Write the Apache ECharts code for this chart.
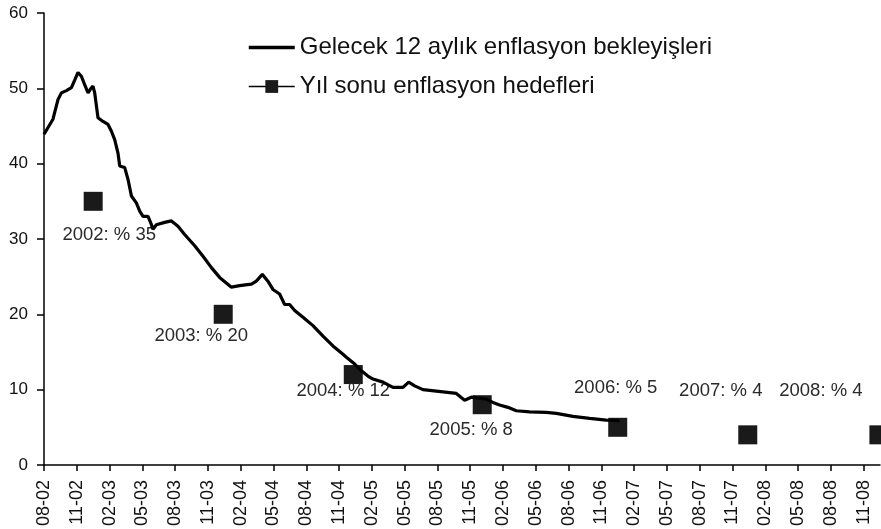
<!DOCTYPE html>
<html>
<head>
<meta charset="utf-8">
<script src="https://cdn.jsdelivr.net/npm/echarts@6/dist/echarts.min.js"></script>
<style>
html,body{margin:0;padding:0;background:#fff;}
#chart{width:881px;height:529px;}
</style>
</head>
<body>
<div id="chart"></div>
<script>
// x values are months elapsed since August 2002 (08-02 = 0)
var xTickLabels = ['08-02','11-02','02-03','05-03','08-03','11-03','02-04','05-04','08-04','11-04','02-05','05-05','08-05','11-05','02-06','05-06','08-06','11-06','02-07','05-07','08-07','11-07','02-08','05-08','08-08','11-08'];
var xTickMonths = [0,3,6,9,12,15,18,21,24,27,30,33,36,39,42,45,48,51,54,57,60,63,66,69,72,75];
var yTicks = [0,10,20,30,40,50,60];

var expectationName = 'Gelecek 12 aylık enflasyon bekleyişleri';
var expectationMonths = [0,0.37,0.82,1.28,1.59,2.05,2.51,2.81,3.11,3.42,3.72,4.03,4.25,4.48,4.64,4.94,5.4,5.86,6.17,6.47,6.77,6.93,7.38,7.69,8.0,8.45,8.76,9.06,9.52,9.83,9.97,10.28,11.04,11.66,12.26,12.87,13.79,14.55,15.32,16.07,17.15,17.9,18.98,19.43,19.98,20.49,20.95,21.56,22.02,22.48,22.94,23.7,24.61,25.53,26.44,27.36,27.67,28.43,29.04,29.64,30.1,31.02,31.93,32.85,33.37,33.92,34.68,35.9,37.73,38.49,39.1,40.48,41.08,41.69,42.45,43.22,44.44,45.96,46.88,48.4,49.93,51.45,52.67];
var expectationValues = [43.9,44.8,45.9,48.5,49.4,49.7,50.1,51.1,52.1,51.6,50.5,49.4,49.9,50.3,49.4,46.1,45.6,45.2,44.3,43.2,41.4,39.7,39.5,37.9,35.7,34.8,33.7,33.0,33.0,31.9,31.3,31.9,32.2,32.4,31.7,30.6,29.1,27.7,26.2,24.9,23.6,23.8,24.0,24.4,25.3,24.4,23.3,22.7,21.3,21.3,20.5,19.6,18.5,17.1,15.8,14.7,14.3,13.4,12.5,11.8,11.4,11.0,10.3,10.3,11.0,10.5,10.0,9.8,9.5,8.6,9.0,8.75,8.3,7.95,7.65,7.2,7.06,6.98,6.85,6.45,6.19,5.96,5.87];

var targetName = 'Yıl sonu enflasyon hedefleri';
var targetYears = ['2002','2003','2004','2005','2006','2007','2008'];
var targetMonths = [4.5,16.4,28.3,40.1,52.5,64.4,76.4];
var targetValues = [35,20,12,8,5,4,4];

// label placement (style only)
var targetLabelOffsets = [[16,34],[-22,22],[-10,16],[-11,25],[-2,-39],[-27,-44],[-58,-44]];

var FONT = '"Liberation Sans", Arial, Helvetica, sans-serif';

var lineData = expectationMonths.map(function(m, i){ return [m, expectationValues[i]]; });
var targetData = targetMonths.map(function(m, i){
  return {
    value: [m, targetValues[i]],
    name: targetYears[i],
    label: { offset: targetLabelOffsets[i] }
  };
});

var chart = echarts.init(document.getElementById('chart'), null, {renderer:'canvas'});
chart.setOption({
  animation: false,
  backgroundColor: '#ffffff',
  grid: { left: 44, right: 1, top: 13, bottom: 63, containLabel: false },
  legend: {
    orient: 'vertical',
    left: 243,
    top: 30,
    itemWidth: 46,
    itemHeight: 16,
    itemGap: 14,
    symbolKeepAspect: true,
    textStyle: { fontFamily: FONT, fontSize: 24, color: '#111', lineHeight: 25 },
    data: [
      { name: expectationName, icon: 'path://M0,0L46,0L46,3.5L0,3.5Z', itemStyle: { color: '#000' } },
      { name: targetName, lineStyle: { opacity: 1, width: 1.5, color: '#000' } }
    ]
  },
  xAxis: {
    type: 'value',
    min: 0,
    max: 76.5,
    splitLine: { show: false },
    axisLine: { onZero: false, lineStyle: { color: '#000', width: 1.5 } },
    axisTick: { show: true, length: 6, customValues: xTickMonths, lineStyle: { color: '#000', width: 1.5 } },
    axisLabel: {
      customValues: xTickMonths,
      rotate: 90,
      margin: 15,
      fontFamily: FONT,
      fontSize: 18,
      color: '#111',
      formatter: function(v){
        var i = xTickMonths.indexOf(Math.round(v));
        return i >= 0 ? xTickLabels[i] : '';
      }
    }
  },
  yAxis: {
    type: 'value',
    min: 0,
    max: 60,
    interval: 10,
    splitLine: { show: false },
    axisLine: { show: true, lineStyle: { color: '#000', width: 1.5 } },
    axisTick: { show: true, length: 7, lineStyle: { color: '#000', width: 1.5 } },
    axisLabel: { fontFamily: FONT, fontSize: 17, color: '#111', margin: 16 }
  },
  series: [
    {
      name: expectationName,
      type: 'line',
      data: lineData,
      symbol: 'none',
      z: 3,
      lineStyle: { color: '#000', width: 3.2 },
      itemStyle: { color: '#000' }
    },
    {
      name: targetName,
      type: 'line',
      data: targetData,
      symbol: 'rect',
      symbolSize: 19,
      clip: false,
      z: 2,
      lineStyle: { opacity: 0, color: '#000' },
      itemStyle: { color: '#1a1a1a' },
      label: {
        show: true,
        position: 'inside',
        fontFamily: FONT,
        fontSize: 18.5,
        color: '#2a2a2a',
        formatter: function(p){ return p.name + ': % ' + p.value[1]; }
      }
    }
  ]
});
</script>
</body>
</html>
